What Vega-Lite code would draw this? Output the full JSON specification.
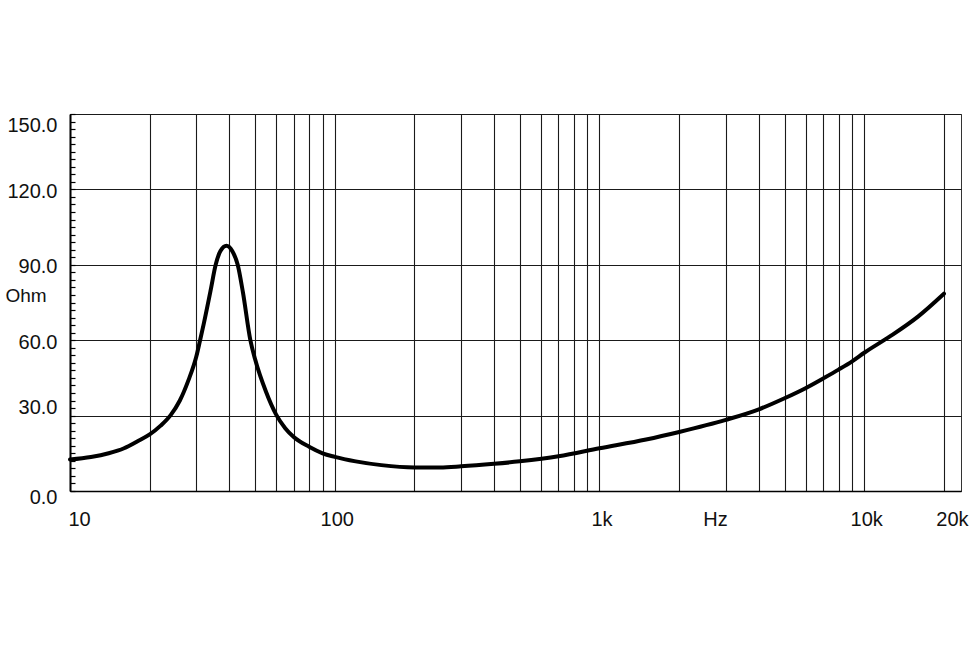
{
  "$schema": "https://vega.github.io/schema/vega-lite/v6.json",
  "width": 891,
  "height": 377,
  "autosize": {"type": "none"},
  "padding": {"left": 70, "top": 114, "right": 9, "bottom": 156},
  "background": "white",
  "config": {
    "view": {"stroke": "#333", "strokeWidth": 1},
    "font": "Liberation Sans",
    "axis": {"labelFont": "Liberation Sans", "titleFont": "Liberation Sans", "labelColor": "#111", "titleColor": "#111"}
  },
  "data": {
    "values": [
      {"f": 10, "z": 12.5},
      {"f": 12, "z": 13.5},
      {"f": 14, "z": 15.0},
      {"f": 16, "z": 17.0},
      {"f": 18, "z": 19.8},
      {"f": 20, "z": 22.5},
      {"f": 22, "z": 26.0},
      {"f": 24, "z": 30.2},
      {"f": 26, "z": 36.0},
      {"f": 28, "z": 44.0},
      {"f": 30, "z": 53.5},
      {"f": 31, "z": 60.0},
      {"f": 32, "z": 66.5},
      {"f": 34, "z": 80.0},
      {"f": 35.5, "z": 90.0},
      {"f": 37, "z": 95.5},
      {"f": 39, "z": 97.6},
      {"f": 41, "z": 95.5},
      {"f": 43, "z": 90.0},
      {"f": 45, "z": 79.0},
      {"f": 48, "z": 60.0},
      {"f": 50, "z": 52.5},
      {"f": 55, "z": 39.5},
      {"f": 60, "z": 30.5},
      {"f": 65, "z": 25.0},
      {"f": 70, "z": 21.5},
      {"f": 80, "z": 17.6},
      {"f": 90, "z": 15.0},
      {"f": 100, "z": 13.6},
      {"f": 120, "z": 11.8},
      {"f": 150, "z": 10.3},
      {"f": 200, "z": 9.4},
      {"f": 250, "z": 9.4},
      {"f": 300, "z": 9.8},
      {"f": 400, "z": 10.8},
      {"f": 500, "z": 11.8},
      {"f": 700, "z": 13.8},
      {"f": 1000, "z": 17.0},
      {"f": 1500, "z": 20.5},
      {"f": 2000, "z": 23.5},
      {"f": 3000, "z": 28.3},
      {"f": 4000, "z": 32.5},
      {"f": 5000, "z": 36.9},
      {"f": 6000, "z": 40.9},
      {"f": 7000, "z": 44.8},
      {"f": 8000, "z": 48.3},
      {"f": 9000, "z": 51.6},
      {"f": 10000, "z": 55.0},
      {"f": 12500, "z": 61.5},
      {"f": 16000, "z": 69.5},
      {"f": 20000, "z": 78.5}
    ]
  },
  "mark": {"type": "line", "color": "#000", "strokeWidth": 4, "interpolate": "monotone", "strokeCap": "round"},
  "encoding": {
    "x": {
      "field": "f",
      "type": "quantitative",
      "scale": {"type": "log", "domain": [10, 23200], "nice": false},
      "axis": {
        "values": [10, 20, 30, 40, 50, 60, 70, 80, 90, 100, 200, 300, 400, 500, 600, 700, 800, 900, 1000, 2000, 3000, 4000, 5000, 6000, 7000, 8000, 9000, 10000, 20000],
        "labelExpr": "datum.value == 10 ? '10' : datum.value == 100 ? '100' : datum.value == 1000 ? '1k' : datum.value == 10000 ? '10k' : datum.value == 20000 ? '20k' : ''",
        "labelFontSize": 20,
        "labelPadding": 18,
        "labelBaseline": "top",
        "labelAlign": "center",
        "labelOffset": {"condition": [{"test": "datum.value == 10", "value": 9}, {"test": "datum.value == 20000", "value": 8}], "value": 2},
        "labelOverlap": false,
        "labelBound": false,
        "labelFlush": false,
        "ticks": false,
        "grid": true,
        "gridColor": "#1a1a1a",
        "gridWidth": 1.1,
        "gridOpacity": 1,
        "domainColor": "#000",
        "domainWidth": 1.5,
        "title": "Hz",
        "titleFontSize": 20,
        "titleFontWeight": "normal",
        "titleX": 645,
        "titleY": 18,
        "titleBaseline": "top",
        "titleAlign": "center"
      }
    },
    "y": {
      "field": "z",
      "type": "quantitative",
      "scale": {"domain": [0, 150], "nice": false, "zero": true},
      "axis": {
        "values": [0, 3, 6, 9, 12, 15, 18, 21, 24, 27, 30, 33, 36, 39, 42, 45, 48, 51, 54, 57, 60, 63, 66, 69, 72, 75, 78, 81, 84, 87, 90, 93, 96, 99, 102, 105, 108, 111, 114, 117, 120, 123, 126, 129, 132, 135, 138, 141, 144, 147, 150],
        "labelExpr": "datum.value % 30 === 0 ? format(datum.value, '.1f') : ''",
        "labelFontSize": 20,
        "labelPadding": 18,
        "labelOverlap": false,
        "labelBound": false,
        "labelFlush": false,
        "labelOffset": {"condition": [{"test": "datum.value == 150", "value": 11}, {"test": "datum.value == 30", "value": -8}, {"test": "datum.value == 0", "value": 6}], "value": 2},
        "ticks": true,
        "tickSize": -5,
        "tickColor": "#000",
        "tickWidth": 1.2,
        "grid": true,
        "gridColor": "#1a1a1a",
        "gridWidth": 1.1,
        "gridOpacity": {"condition": {"test": "datum.value % 30 === 0", "value": 1}, "value": 0},
        "domainColor": "#000",
        "domainWidth": 2,
        "title": "Ohm",
        "titleFontSize": 19,
        "titleFontWeight": "normal",
        "titleAngle": 0,
        "titleX": -65,
        "titleY": 181,
        "titleAlign": "left",
        "titleBaseline": "middle"
      }
    }
  }
}
